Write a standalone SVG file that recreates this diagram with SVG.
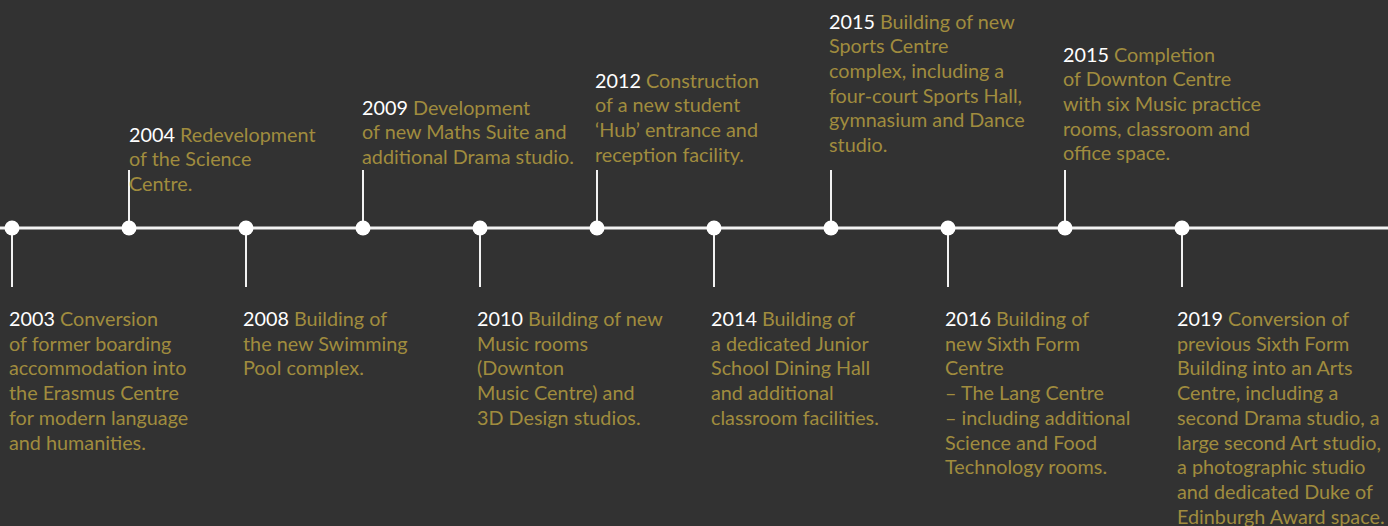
<svg xmlns="http://www.w3.org/2000/svg" width="1388" height="526" viewBox="0 0 1388 526">
<style>
text{font-family:Lato,"Noto Sans",sans-serif;font-size:19.8px;fill:#a08c3e}
.y{fill:#ffffff}
.ln{stroke:#f2f2f2;stroke-width:2;fill:none}
.axis{stroke:#f2f2f2;stroke-width:3}
.dot{fill:#ffffff}
</style>
<rect width="1388" height="526" fill="#323232"/>
<g id="connectors">
<line class="axis" x1="0" y1="228" x2="1388" y2="228"/>
<line class="ln" x1="12" y1="228" x2="12" y2="287"/>
<line class="ln" x1="129" y1="170" x2="129" y2="228"/>
<line class="ln" x1="246" y1="228" x2="246" y2="287"/>
<line class="ln" x1="363" y1="170" x2="363" y2="228"/>
<line class="ln" x1="480" y1="228" x2="480" y2="287"/>
<line class="ln" x1="597" y1="170" x2="597" y2="228"/>
<line class="ln" x1="714" y1="228" x2="714" y2="287"/>
<line class="ln" x1="831" y1="170" x2="831" y2="228"/>
<line class="ln" x1="948" y1="228" x2="948" y2="287"/>
<line class="ln" x1="1065" y1="170" x2="1065" y2="228"/>
<line class="ln" x1="1182" y1="228" x2="1182" y2="287"/>
</g>
<g id="n2003"><circle class="dot" cx="12" cy="228" r="7.5"/>
<text x="9" y="326"><tspan class="y">2003</tspan> Conversion<tspan x="9" dy="24.7">of former boarding</tspan><tspan x="9" dy="24.7">accommodation into</tspan><tspan x="9" dy="24.7">the Erasmus Centre</tspan><tspan x="9" dy="24.7">for modern language</tspan><tspan x="9" dy="24.7">and humanities.</tspan></text></g>
<g id="n2004"><circle class="dot" cx="129" cy="228" r="7.5"/>
<text x="129" y="141.5"><tspan class="y">2004</tspan> Redevelopment<tspan x="129" dy="24.7">of the Science</tspan><tspan x="129" dy="24.7">Centre.</tspan></text></g>
<g id="n2008"><circle class="dot" cx="246" cy="228" r="7.5"/>
<text x="243" y="326"><tspan class="y">2008</tspan> Building of<tspan x="243" dy="24.7">the new Swimming</tspan><tspan x="243" dy="24.7">Pool complex.</tspan></text></g>
<g id="n2009"><circle class="dot" cx="363" cy="228" r="7.5"/>
<text x="362" y="114.5"><tspan class="y">2009</tspan> Development<tspan x="362" dy="24.7">of new Maths Suite and</tspan><tspan x="362" dy="24.7">additional Drama studio.</tspan></text></g>
<g id="n2010"><circle class="dot" cx="480" cy="228" r="7.5"/>
<text x="477" y="326"><tspan class="y">2010</tspan> Building of new<tspan x="477" dy="24.7">Music rooms</tspan><tspan x="477" dy="24.7">(Downton</tspan><tspan x="477" dy="24.7">Music Centre) and</tspan><tspan x="477" dy="24.7">3D Design studios.</tspan></text></g>
<g id="n2012"><circle class="dot" cx="597" cy="228" r="7.5"/>
<text x="595" y="87.5"><tspan class="y">2012</tspan> Construction<tspan x="595" dy="24.7">of a new student</tspan><tspan x="595" dy="24.7">‘Hub’ entrance and</tspan><tspan x="595" dy="24.7">reception facility.</tspan></text></g>
<g id="n2014"><circle class="dot" cx="714" cy="228" r="7.5"/>
<text x="711" y="326"><tspan class="y">2014</tspan> Building of<tspan x="711" dy="24.7">a dedicated Junior</tspan><tspan x="711" dy="24.7">School Dining Hall</tspan><tspan x="711" dy="24.7">and additional</tspan><tspan x="711" dy="24.7">classroom facilities.</tspan></text></g>
<g id="n2015a"><circle class="dot" cx="831" cy="228" r="7.5"/>
<text x="829" y="28.5"><tspan class="y">2015</tspan> Building of new<tspan x="829" dy="24.7">Sports Centre</tspan><tspan x="829" dy="24.7">complex, including a</tspan><tspan x="829" dy="24.7">four-court Sports Hall,</tspan><tspan x="829" dy="24.7">gymnasium and Dance</tspan><tspan x="829" dy="24.7">studio.</tspan></text></g>
<g id="n2016"><circle class="dot" cx="948" cy="228" r="7.5"/>
<text x="945" y="326"><tspan class="y">2016</tspan> Building of<tspan x="945" dy="24.7">new Sixth Form</tspan><tspan x="945" dy="24.7">Centre</tspan><tspan x="945" dy="24.7">– The Lang Centre</tspan><tspan x="945" dy="24.7">– including additional</tspan><tspan x="945" dy="24.7">Science and Food</tspan><tspan x="945" dy="24.7">Technology rooms.</tspan></text></g>
<g id="n2015b"><circle class="dot" cx="1065" cy="228" r="7.5"/>
<text x="1063" y="61.5"><tspan class="y">2015</tspan> Completion<tspan x="1063" dy="24.7">of Downton Centre</tspan><tspan x="1063" dy="24.7">with six Music practice</tspan><tspan x="1063" dy="24.7">rooms, classroom and</tspan><tspan x="1063" dy="24.7">office space.</tspan></text></g>
<g id="n2019"><circle class="dot" cx="1182" cy="228" r="7.5"/>
<text x="1177" y="326"><tspan class="y">2019</tspan> Conversion of<tspan x="1177" dy="24.7">previous Sixth Form</tspan><tspan x="1177" dy="24.7">Building into an Arts</tspan><tspan x="1177" dy="24.7">Centre, including a</tspan><tspan x="1177" dy="24.7">second Drama studio, a</tspan><tspan x="1177" dy="24.7">large second Art studio,</tspan><tspan x="1177" dy="24.7">a photographic studio</tspan><tspan x="1177" dy="24.7">and dedicated Duke of</tspan><tspan x="1177" dy="24.7">Edinburgh Award space.</tspan></text></g>
</svg>
